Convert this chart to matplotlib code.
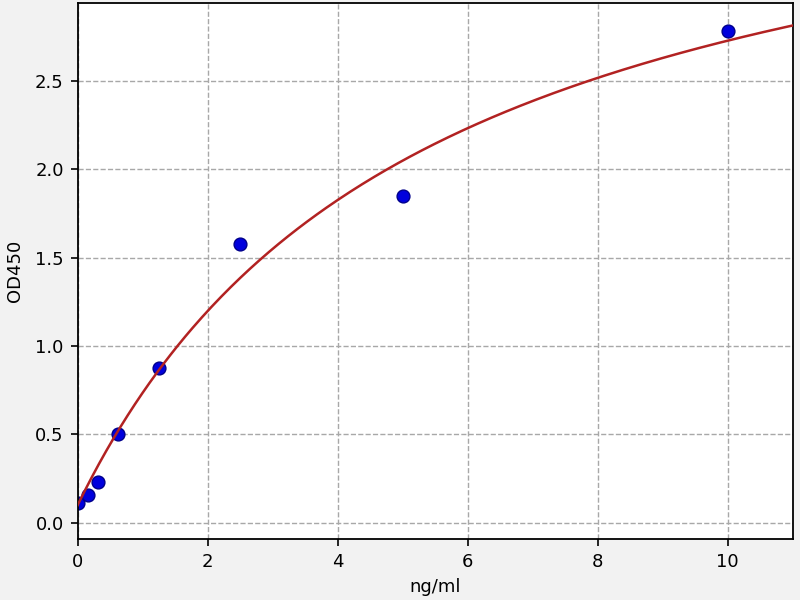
import numpy as np
import matplotlib
matplotlib.use('Agg')
import matplotlib.pyplot as plt

# standard concentrations and measured OD450
conc = [0, 0.156, 0.3125, 0.625, 1.25, 2.5, 5, 10]
od450 = [0.11, 0.16, 0.23, 0.50, 0.875, 1.575, 1.85, 2.78]

# fitted curve parameters (4PL)
a_fit = 0.10
d_fit = 4.13
c_fit = 5.34
b_fit = 1.0

xfit = np.linspace(0, 11, 300)
yfit = d_fit + (a_fit - d_fit) / (1 + (xfit / c_fit) ** b_fit)

fig = plt.figure(figsize=(8, 6), dpi=100, facecolor='#f2f2f2')
ax = fig.add_axes([0.097, 0.102, 0.894, 0.893])
ax.set_facecolor('white')

ax.scatter(conc, od450, s=85, color='#0000dd', edgecolors='#00008b', linewidths=1.0, zorder=2)
ax.plot(xfit, yfit, color='#b22222', linewidth=1.8, zorder=3)

ax.set_xlim(0, 11)
ax.set_ylim(-0.09, 2.94)
ax.set_xticks([0, 2, 4, 6, 8, 10])
ax.set_yticks([0.0, 0.5, 1.0, 1.5, 2.0, 2.5])
ax.grid(True, linestyle='--', color='#a8a8a8', linewidth=1.0)
ax.set_axisbelow(True)
for s in ax.spines.values():
    s.set_linewidth(1.3)
ax.tick_params(labelsize=13, length=5, width=1.2, pad=5)
ax.set_xlabel('ng/ml', fontsize=13)
ax.set_ylabel('OD450', fontsize=13)
ax.yaxis.set_label_coords(-0.075, 0.5)
ax.xaxis.set_label_coords(0.5, -0.074)

plt.savefig('out.png', dpi=100, facecolor=fig.get_facecolor())
